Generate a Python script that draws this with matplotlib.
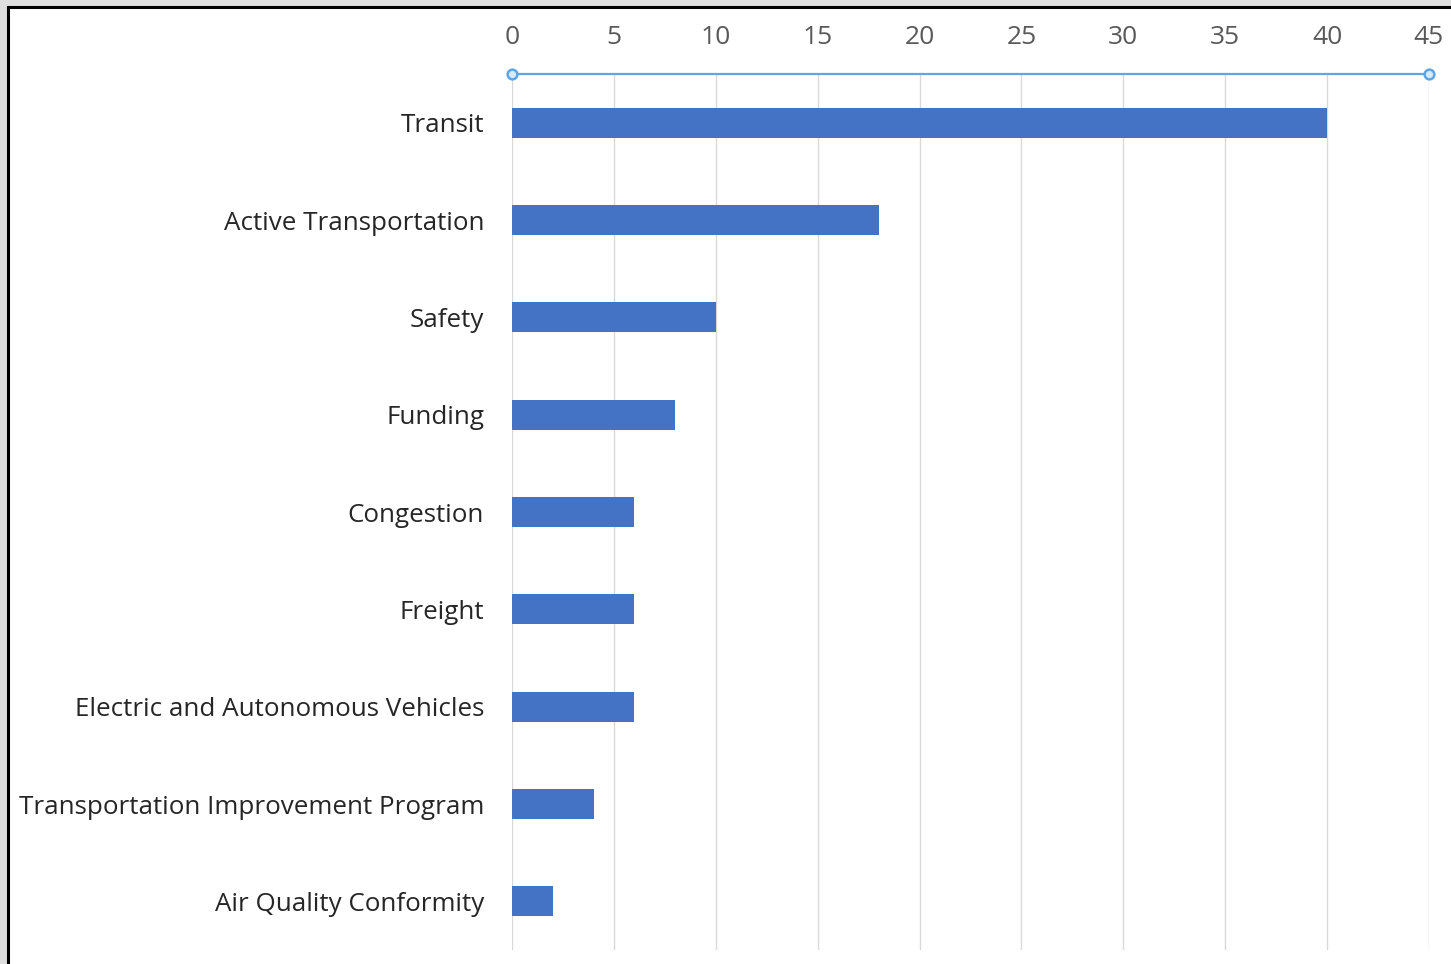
import matplotlib
matplotlib.use("Agg")
from matplotlib import pyplot as plt
from matplotlib.patches import Rectangle

categories = [
    "Transit",
    "Active Transportation",
    "Safety",
    "Funding",
    "Congestion",
    "Freight",
    "Electric and Autonomous Vehicles",
    "Transportation Improvement Program",
    "Air Quality Conformity",
]
counts = [40, 18, 10, 8, 6, 6, 6, 4, 2]
x_ticks = [0, 5, 10, 15, 20, 25, 30, 35, 40, 45]

plt.rcParams['font.family'] = ['Open Sans', 'DejaVu Sans']


def plot():
    fig = plt.figure(figsize=(14.51, 9.64), dpi=100, facecolor="#dedede")
    # white panel with black frame (screenshot crop look)
    fig.patches.append(Rectangle((8 / 1451, -0.1), 1.2, (964 - 7) / 964 + 0.1,
                                 transform=fig.transFigure, facecolor="white",
                                 edgecolor="black", linewidth=2.2, zorder=-10))

    ax = fig.add_axes([512 / 1451, 14 / 964, 917 / 1451, 876 / 964])
    ax.set_zorder(5)
    ax.patch.set_visible(False)
    y = list(range(len(categories)))
    ax.barh(y, counts, height=0.31, color="#4472c4", zorder=3)

    ax.set_xlim(0, 45)
    ax.set_ylim(len(categories) - 0.5, -0.5)
    ax.set_xticks(x_ticks)
    ax.set_yticks(y)
    ax.set_yticklabels(categories)

    ax.xaxis.tick_top()
    ax.tick_params(axis="x", length=0, pad=17, labelsize=19, labelcolor="#595959")
    ax.tick_params(axis="y", length=0, pad=20, labelsize=18.7, labelcolor="#262626")

    ax.grid(axis="x", color="#d9d9d9", linewidth=1, zorder=0)
    for side in ["left", "right", "bottom"]:
        ax.spines[side].set_visible(False)
    ax.spines["top"].set_color("#5ea6e6")
    ax.spines["top"].set_linewidth(1.6)

    # end handles of the axis line
    ax.plot([0, 45], [-0.5, -0.5], linestyle="none", marker="o", markersize=7,
            markerfacecolor="#d6eafb", markeredgecolor="#5ea6e6", markeredgewidth=1.8,
            clip_on=False, zorder=5)

    fig.savefig("out.png", dpi=100, facecolor=fig.get_facecolor())
    plt.close(fig)


if __name__ == '__main__':
    plot()
